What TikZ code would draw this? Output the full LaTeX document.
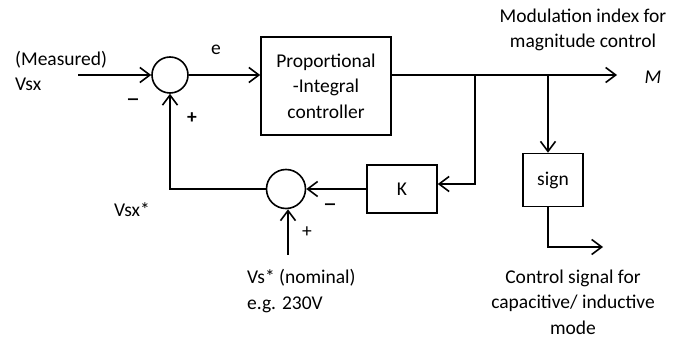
\documentclass[tikz,border=0pt]{standalone}
\usepackage{fontspec}
\setmainfont{Carlito}
\usetikzlibrary{arrows.meta,positioning,calc}

\begin{document}
\begin{tikzpicture}[
  x=1pt, y=-1pt,
  every node/.style={font=\fontsize{19.5}{25.5}\selectfont, align=center, inner sep=0pt},
  sumnode/.style={circle, draw, line width=1.6pt},
  block/.style={rectangle, draw, line width=1.6pt},
  minuslbl/.style={font=\fontsize{28}{28}\selectfont},
  sig/.style={draw, line width=1.6pt, -{Straight Barb[length=10pt, width=15pt, line width=1.6pt]}},
  wire/.style={draw, line width=1.6pt}
]
  \useasboundingbox (0,0) rectangle (683,339);

  % blocks
  \node[sumnode, minimum size=36pt] (sum1) at (170,75) {};
  \node[block, minimum width=130pt, minimum height=98pt] (pi) at (326,86) {Proportional\\-Integral\\controller};
  \node[block, minimum width=70pt, minimum height=48pt] (k) at (402,189) {K};
  \node[sumnode, minimum size=39pt] (sum2) at (286,189) {};
  \node[block, minimum width=60pt, minimum height=53pt] (sign) at (553,180) {sign};

  % free ends and branch points
  \coordinate (vin) at (78,75);
  \coordinate (mout) at (617,75);
  \coordinate (br1) at (475,75);
  \coordinate (br2) at (548,75);
  \coordinate (vref) at (288,255);
  \coordinate (csig) at (603,247);

  % labels
  \node[align=left, anchor=west] (meas) at (15,71) {(Measured)\\Vsx};
  \node (elab) at (216,50) {e};
  \node[minuslbl] (minus1) at (133,103) {–};
  \node[font=\fontsize{19.5}{25.5}\selectfont\bfseries] (plus1) at (192,118) {+};
  \node (vsxstar) at (132,210) {Vsx*};
  \node[minuslbl] (minus2) at (330,208) {–};
  \node (plus2) at (307,232) {+};
  \node[align=left, anchor=west] (vsnom) at (247,291) {Vs* (nominal)\\e.g. 230V};
  \node (modidx) at (583,30) {Modulation index for\\magnitude control};
  \node[font=\fontsize{19.5}{25.5}\selectfont\itshape] (mlab) at (653,77) {M};
  \node (ctrl) at (573,302) {Control signal for\\capacitive/ inductive\\mode};

  % connectors
  \draw[sig] (vin) -- (sum1.west);
  \draw[sig] (sum1.east) -- (sum1.east -| pi.west);
  \draw[sig] (pi.east |- mout) -- (mout);
  \draw[sig] (br1) |- ($(k.east)+(0,-5)$);
  \draw[sig] (br2) -- (br2 |- sign.north);
  \draw[sig] (br2 |- sign.south) |- (csig);
  \draw[sig] (k.west) -- (sum2.east);
  \draw[sig] (sum2.west) -| (sum1.south);
  \draw[sig] (vref) -- (sum2.south -| vref);
\end{tikzpicture}
\end{document}
